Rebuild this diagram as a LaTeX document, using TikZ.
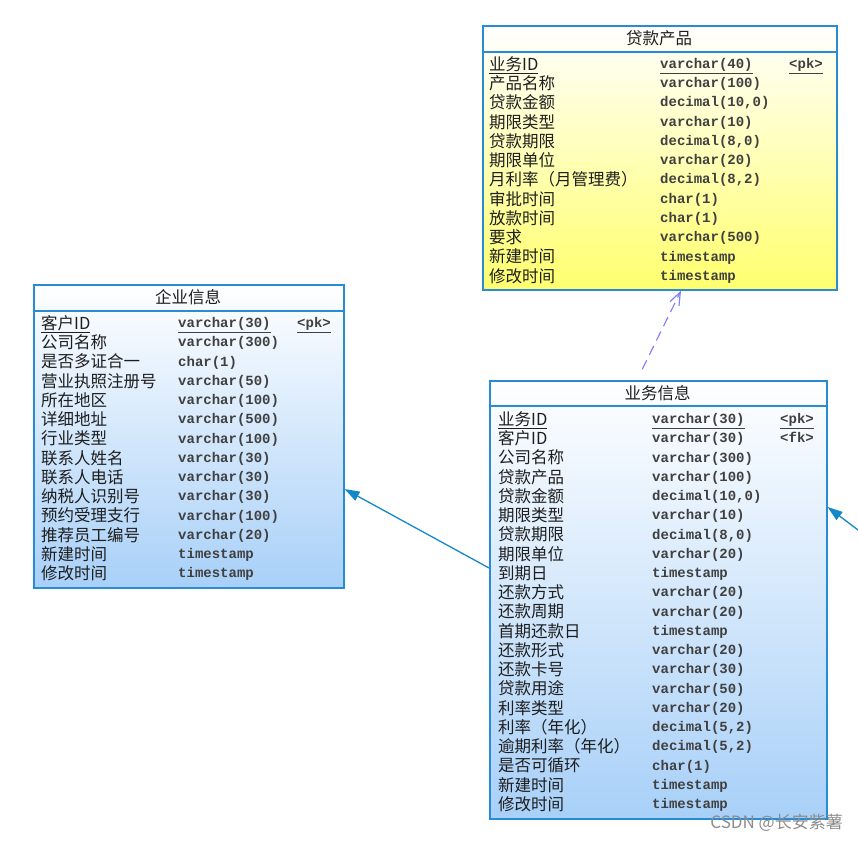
\documentclass[tikz,border=0pt]{standalone}
\usepackage{fontspec}
\setmainfont{Liberation Mono}
\newfontfamily\cjk{Noto Sans CJK SC}
\usetikzlibrary{arrows.meta}
\definecolor{frame}{RGB}{40,140,210}
\definecolor{bluef}{RGB}{168,208,248}
\definecolor{yelf}{RGB}{255,255,110}
\definecolor{link}{RGB}{20,135,200}
\definecolor{dep}{RGB}{130,130,250}
\definecolor{txt}{RGB}{30,30,30}
\newcommand\setcols[3]{\gdef\nx{#1}\gdef\tx{#2}\gdef\ys{#3}}
\newcommand\frow[4]{%
  \node[cnf] (#1-#2n) at (\nx,{\ys+19.25*(#2-1)+6.3}) {#3};
  \node[tyf] (#1-#2t) at (\tx,{\ys+19.25*(#2-1)+4.5}) {#4};}
\begin{document}
\begin{tikzpicture}[x=1pt,y=-1pt,
  tbl/.style={draw=frame, line width=1.6pt, anchor=north west, inner sep=0pt, shading angle=45},
  sepline/.style={draw=frame, line width=1.6pt},
  cnf/.style={anchor=base west, inner sep=0pt, font=\cjk\fontsize{16.5}{18}\selectfont, text=txt},
  tyf/.style={anchor=base west, inner sep=0pt, font=\bfseries\fontsize{14}{16}\selectfont, text=txt!85},
  ttl/.style={inner sep=0pt, font=\cjk\fontsize{16.5}{18}\selectfont, text=txt},
  rel/.style={draw=link, line width=1.3pt, -{Triangle[length=15pt,width=10pt]}},
  dept/.style={draw=dep, line width=1.2pt, dash pattern=on 10pt off 6pt, -{Straight Barb[length=13pt,width=10pt]}}
]
\useasboundingbox (0,0) rectangle (858,842);

% ---------------- 贷款产品 ----------------
\node[tbl, top color=white, bottom color=yelf, minimum width=354pt, minimum height=264pt] (prod) at (482,25) {};
\draw[sepline] ([yshift=-27pt]prod.north west) -- ([yshift=-27pt]prod.north east);
\node[ttl] (prod-title) at (659,38.5) {贷款产品};
\setcols{489}{660}{64}
\frow{prod}{1}{\underline{业务ID}}{\underline{varchar(40)}}
\node[tyf] (prod-pk) at (789,68.5) {\underline{<pk>}};
\frow{prod}{2}{产品名称}{varchar(100)}
\frow{prod}{3}{贷款金额}{decimal(10,0)}
\frow{prod}{4}{期限类型}{varchar(10)}
\frow{prod}{5}{贷款期限}{decimal(8,0)}
\frow{prod}{6}{期限单位}{varchar(20)}
\frow{prod}{7}{月利率（月管理费）}{decimal(8,2)}
\frow{prod}{8}{审批时间}{char(1)}
\frow{prod}{9}{放款时间}{char(1)}
\frow{prod}{10}{要求}{varchar(500)}
\frow{prod}{11}{新建时间}{timestamp}
\frow{prod}{12}{修改时间}{timestamp}

% ---------------- 企业信息 ----------------
\node[tbl, top color=white, bottom color=bluef, minimum width=310pt, minimum height=303pt] (ent) at (33,284) {};
\draw[sepline] ([yshift=-27pt]ent.north west) -- ([yshift=-27pt]ent.north east);
\node[ttl] (ent-title) at (188,297.5) {企业信息};
\setcols{41}{178}{323}
\frow{ent}{1}{\underline{客户ID}}{\underline{varchar(30)}}
\node[tyf] (ent-pk) at (297,327.5) {\underline{<pk>}};
\frow{ent}{2}{公司名称}{varchar(300)}
\frow{ent}{3}{是否多证合一}{char(1)}
\frow{ent}{4}{营业执照注册号}{varchar(50)}
\frow{ent}{5}{所在地区}{varchar(100)}
\frow{ent}{6}{详细地址}{varchar(500)}
\frow{ent}{7}{行业类型}{varchar(100)}
\frow{ent}{8}{联系人姓名}{varchar(30)}
\frow{ent}{9}{联系人电话}{varchar(30)}
\frow{ent}{10}{纳税人识别号}{varchar(30)}
\frow{ent}{11}{预约受理支行}{varchar(100)}
\frow{ent}{12}{推荐员工编号}{varchar(20)}
\frow{ent}{13}{新建时间}{timestamp}
\frow{ent}{14}{修改时间}{timestamp}

% ---------------- 业务信息 ----------------
\node[tbl, top color=white, bottom color=bluef, minimum width=337pt, minimum height=438pt] (biz) at (489,380) {};
\draw[sepline] ([yshift=-26pt]biz.north west) -- ([yshift=-26pt]biz.north east);
\node[ttl] (biz-title) at (657.5,393) {业务信息};
\setcols{498}{652}{419}
\frow{biz}{1}{\underline{业务ID}}{\underline{varchar(30)}}
\node[tyf] (biz-pk) at (780,423.5) {\underline{<pk>}};
\frow{biz}{2}{客户ID}{varchar(30)}
\node[tyf] (biz-fk) at (780,442.75) {<fk>};
\frow{biz}{3}{公司名称}{varchar(300)}
\frow{biz}{4}{贷款产品}{varchar(100)}
\frow{biz}{5}{贷款金额}{decimal(10,0)}
\frow{biz}{6}{期限类型}{varchar(10)}
\frow{biz}{7}{贷款期限}{decimal(8,0)}
\frow{biz}{8}{期限单位}{varchar(20)}
\frow{biz}{9}{到期日}{timestamp}
\frow{biz}{10}{还款方式}{varchar(20)}
\frow{biz}{11}{还款周期}{varchar(20)}
\frow{biz}{12}{首期还款日}{timestamp}
\frow{biz}{13}{还款形式}{varchar(20)}
\frow{biz}{14}{还款卡号}{varchar(30)}
\frow{biz}{15}{贷款用途}{varchar(50)}
\frow{biz}{16}{利率类型}{varchar(20)}
\frow{biz}{17}{利率（年化）}{decimal(5,2)}
\frow{biz}{18}{逾期利率（年化）}{decimal(5,2)}
\frow{biz}{19}{是否可循环}{char(1)}
\frow{biz}{20}{新建时间}{timestamp}
\frow{biz}{21}{修改时间}{timestamp}

% ---------------- connectors ----------------
\draw[rel] ([yshift=-188pt]biz.north west) -- ([yshift=-205pt]ent.north east);
\coordinate (ext) at (862,533);
\draw[rel] (ext) -- ([yshift=-127pt]biz.north east);
\draw[dept, shorten <=12pt] ([xshift=148pt]biz.north west) -- ([xshift=199pt]prod.south west);

% watermark
\node[anchor=east, inner sep=0pt, font=\cjk\fontsize{17}{19}\selectfont, text=black!45] (wm) at (843,823) {CSDN @长安紫薯};
\end{tikzpicture}
\end{document}
